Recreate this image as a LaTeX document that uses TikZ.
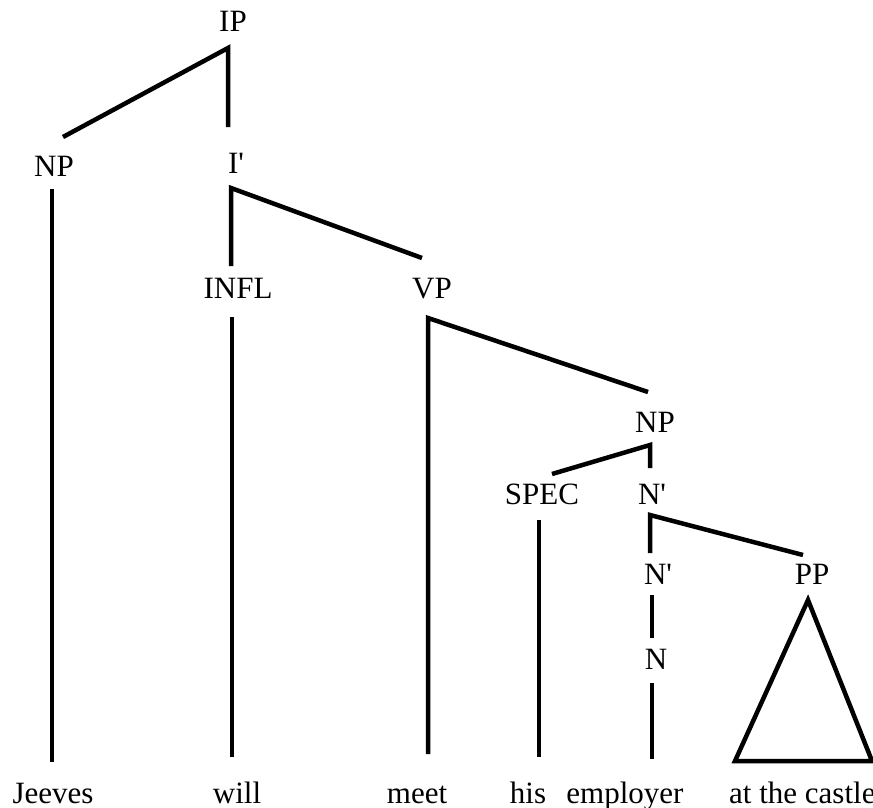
\documentclass[tikz,border=0pt]{standalone}
\usepackage{fontspec}
\setmainfont{Liberation Serif}[Ligatures=TeXOff]
\begin{document}
\begin{tikzpicture}[x=1pt,y=-1pt,
  lbl/.style={anchor=base,inner sep=0pt,font=\fontsize{31}{36}\selectfont},
  br/.style={line width=4.5pt,line cap=butt,line join=miter}]
\useasboundingbox (0,0) rectangle (873,808);
% labels
\node[lbl] (ip) at (233,32) {IP};
\node[lbl] (np) at (54,176) {NP};
\node[lbl] (ibar) at (236,173) {I'};
\node[lbl] (infl) at (238,298) {INFL};
\node[lbl] (vp) at (432,298) {VP};
\node[lbl] (np2) at (655,432) {NP};
\node[lbl] (spec) at (542,504) {SPEC};
\node[lbl] (nbar) at (652,504) {N'};
\node[lbl] (nbar2) at (658,584) {N'};
\node[lbl] (pp) at (812,584) {PP};
\node[lbl] (n) at (656,669) {N};
% words
\node[lbl] (w1) at (53,803) {Jeeves};
\node[lbl] (w2) at (237,803) {will};
\node[lbl] (w3) at (417,803) {meet};
\node[lbl] (w4) at (528,803) {his};
\node[lbl] (w5) at (625,803) {employer};
\node[lbl,anchor=base west] (w6) at (729,803) {at the castle};
% branch coordinates
\coordinate (ipA) at (228,48);
\coordinate (ipL) at (63,137);
\coordinate (ipD) at (228,127);
\coordinate (npT) at (52,189);
\coordinate (npB) at (52,762);
\coordinate (ibA) at (231,188);
\coordinate (ibD) at (231,266);
\coordinate (ibR) at (422,258);
\coordinate (inT) at (232,317);
\coordinate (inB) at (232,757);
\coordinate (vpA) at (428,318);
\coordinate (vpD) at (428,754);
\coordinate (vpR) at (648,392);
\coordinate (npA) at (650,445);
\coordinate (npD) at (650,468);
\coordinate (npL) at (552,474);
\coordinate (spT) at (539,520);
\coordinate (spB) at (539,757);
\coordinate (nbA) at (650,515);
\coordinate (nbD) at (650,553);
\coordinate (nbR) at (803,555);
\coordinate (n2T) at (652,595);
\coordinate (n2B) at (652,638);
\coordinate (nT) at (652,683);
\coordinate (nB) at (652,759);
\coordinate (trA) at (808,600);
\coordinate (trL) at (735,761);
\coordinate (trR) at (872,761);
% branches
\draw[br] (ipL) -- (ipA) -- (ipD);
\draw[br] (npT) -- (npB);
\draw[br] (ibD) -- (ibA) -- (ibR);
\draw[br] (inT) -- (inB);
\draw[br] (vpD) -- (vpA) -- (vpR);
\draw[br] (npL) -- (npA) -- (npD);
\draw[br] (spT) -- (spB);
\draw[br] (nbD) -- (nbA) -- (nbR);
\draw[br] (n2T) -- (n2B);
\draw[br] (nT) -- (nB);
\draw[br] (trA) -- (trL) -- (trR) -- cycle;
\end{tikzpicture}
\end{document}
